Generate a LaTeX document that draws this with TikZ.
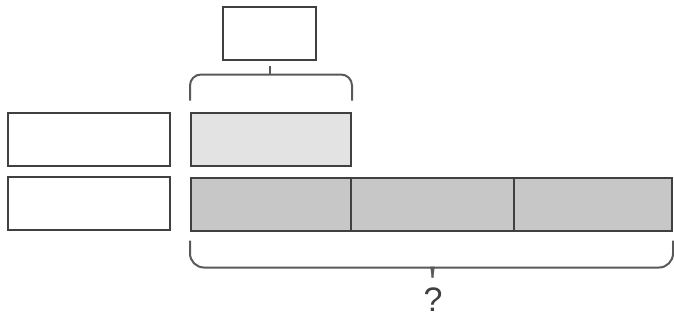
\documentclass[tikz,border=0pt]{standalone}
\usepackage{fontspec}
\setmainfont{Liberation Sans}
\begin{document}
\begin{tikzpicture}[x=1pt,y=-1pt,
  box/.style={draw=black!75,line width=2pt,inner sep=0pt,minimum height=53pt},
  bracestyle/.style={draw=black!65,line width=2pt}]
\useasboundingbox (0,0) rectangle (674,322);
\node[box,minimum width=93pt] (top) at (269.5,33) {};
\node[box,minimum width=162pt] (l1) at (88.5,139.5) {};
\node[box,minimum width=162pt] (l2) at (88.5,203.5) {};
\node[box,minimum width=160pt,fill=black!11] (light) at (271,139) {};
\node[box,minimum width=160pt,fill=black!22] (s1) at (271,204) {};
\node[box,minimum width=163pt,fill=black!22] (s2) at (432.5,204) {};
\node[box,minimum width=158pt,fill=black!22] (s3) at (593,204) {};
\node[font=\fontsize{34}{34}\selectfont,text=black!75] (q) at (433,300) {?};
% top brace
\coordinate (tb) at ([yshift=37pt]light.north);
\draw[bracestyle,rounded corners=11pt] ([yshift=11pt]light.north west) -- ([yshift=37pt]light.north west) -- ([yshift=37pt]light.north east) -- ([yshift=11pt]light.north east);
\draw[bracestyle] (top.south |- tb) -- ([yshift=-5pt]top.south);
% bottom brace
\coordinate (bl) at ([yshift=-9pt]s1.south west);
\coordinate (br) at ([yshift=-9pt]s3.south east);
\draw[bracestyle] (bl) [rounded corners=14pt] -- ([yshift=-36pt]s1.south west) -- ([xshift=-12pt,yshift=-36pt]s2.south) [sharp corners] .. controls ([xshift=-3pt,yshift=-36pt]s2.south) and ([yshift=-38pt]s2.south) .. ([yshift=-46pt]s2.south);
\draw[bracestyle] (br) [rounded corners=14pt] -- ([yshift=-36pt]s3.south east) -- ([xshift=12pt,yshift=-36pt]s2.south) [sharp corners] .. controls ([xshift=3pt,yshift=-36pt]s2.south) and ([yshift=-38pt]s2.south) .. ([yshift=-46pt]s2.south);
\end{tikzpicture}
\end{document}
